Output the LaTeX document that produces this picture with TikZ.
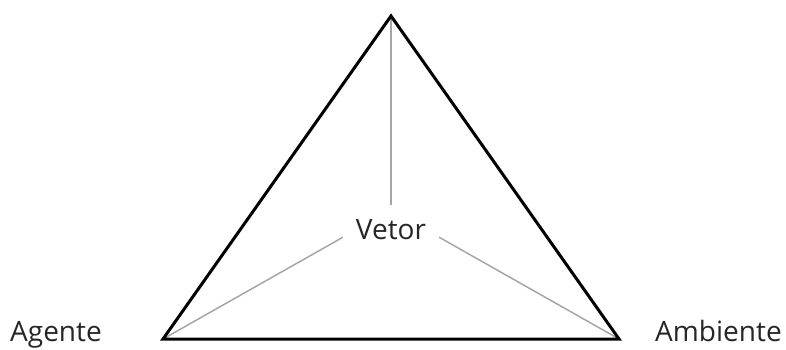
\documentclass[tikz,border=0pt]{standalone}
\usepackage{fontspec}
\setmainfont{Open Sans}
\usetikzlibrary{calc,positioning}

\begin{document}
\begin{tikzpicture}[x=1pt,y=-1pt,
    txt/.style={draw=none,fill=none,inner sep=0pt,text=black!85,font=\fontsize{28}{34}\selectfont},
    spoke/.style={draw=gray!70,line width=1.5pt},
    edge/.style={draw=black,line width=3pt,line join=miter}]
  \useasboundingbox (0,0) rectangle (786,349);

  % Corners of the triangle
  \coordinate (top) at (391,16);
  \coordinate (agentecorner) at (163,339);
  \coordinate (ambientecorner) at (619,339);
  \coordinate (hub) at (391,210);

  % Spokes to the centre
  \draw[spoke] (top) -- (hub);
  \draw[spoke] (agentecorner) -- (hub);
  \draw[spoke] (ambientecorner) -- (hub);

  % Triangle
  \draw[edge] (top) -- (agentecorner) -- (ambientecorner) -- cycle;

  % Vetor
  \node[txt,fill=white,minimum width=96,minimum height=49] (vetor) at (391,229.5) {Vetor};

  % Agente and Ambiente
  \node[txt,anchor=base west] (agente) at (10,341) {Agente};
  \node[txt,anchor=base west] (ambiente) at (655,341) {Ambiente};
\end{tikzpicture}
\end{document}
